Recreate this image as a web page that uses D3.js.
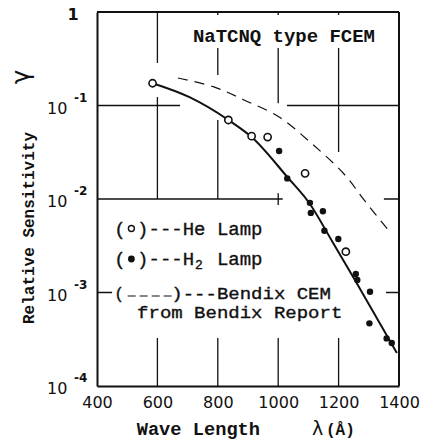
<!DOCTYPE html>
<html><head><meta charset="utf-8">
<script src="https://cdn.jsdelivr.net/npm/d3@7"></script>
<style>body{margin:0;background:#fff}svg{display:block}</style>
</head><body>
<svg id="c" width="422" height="440"></svg>
<script>
// ---- data ----
const heWave = [584, 835, 912, 965, 1089, 1224];
const heSens = [0.173, 0.070, 0.047, 0.046, 0.0188, 0.00273];
const h2Wave = [1003, 1030, 1105, 1108, 1148, 1153, 1199, 1257, 1262, 1304, 1302, 1359, 1376];
const h2Sens = [0.0326, 0.0166, 0.0091, 0.0071, 0.0074, 0.00458, 0.00373, 0.00158, 0.00136, 0.00102, 0.000468, 0.000323, 0.000288];
const fitWave = [584, 708, 835, 912, 1030, 1105, 1178, 1254, 1393];
const fitSens = [0.173, 0.122, 0.070, 0.046, 0.0172, 0.00885, 0.00356, 0.00136, 0.000225];
const bendixWave = [668, 787, 887, 1003, 1109, 1218, 1287, 1370];
const bendixSens = [0.197, 0.158, 0.1146, 0.0753, 0.0397, 0.0185, 0.00953, 0.00443];
const xTickLabels = ["400", "600", "800", "1000", "1200", "1400"];
const xTicks = [400, 600, 800, 1000, 1200, 1400];
const yTicks = [1, 1e-1, 1e-2, 1e-3, 1e-4];
const yTickExp = ["", "-1", "-2", "-3", "-4"];

// ---- layout ----
const svg = d3.select("#c");
const x = d3.scaleLinear().domain([400, 1400]).range([97, 399]);
const y = d3.scaleLog().domain([1e-4, 1]).range([386, 12]);
const ink = "#111";
const mono = "'Liberation Mono', 'DejaVu Sans Mono', monospace";
const sans = "'DejaVu Sans', sans-serif";

// partial grid segments (as drawn in the original graph paper)
const vSegs = [
  [600, 1, 0.285], [600, 0.123, 0.01], [600, 3.26e-4, 1e-4],
  [800, 1, 0.93], [800, 0.412, 0.212], [800, 0.07, 0.01], [800, 3.26e-4, 1e-4],
  [1000, 1, 0.93], [1000, 0.412, 0.106], [1000, 0.0115, 0.0086], [1000, 3.26e-4, 1e-4],
  [1200, 1, 0.93], [1200, 0.412, 0.0318], [1200, 3.26e-4, 1e-4]
];
const hSegs = [
  [0.1, 400, 675], [0.1, 1029, 1400],
  [0.01, 400, 1015], [0.01, 1350, 1400],
  [0.001, 400, 450], [0.001, 1357, 1400]
];

const g = svg.append("g");
g.selectAll("line.v").data(vSegs).join("line").attr("class", "v")
  .attr("x1", d => x(d[0])).attr("x2", d => x(d[0]))
  .attr("y1", d => y(d[1])).attr("y2", d => y(d[2]))
  .attr("stroke", ink).attr("stroke-width", 1.3);
g.selectAll("line.h").data(hSegs).join("line").attr("class", "h")
  .attr("y1", d => y(d[0])).attr("y2", d => y(d[0]))
  .attr("x1", d => x(d[1])).attr("x2", d => x(d[2]))
  .attr("stroke", ink).attr("stroke-width", 1.5);

// axes (frame)
const xAxis = d3.axisBottom(x).tickValues(xTicks).tickSize(0).tickFormat((d, i) => xTickLabels[i]);
const gx = svg.append("g").attr("transform", `translate(0,${y(1e-4)})`).call(xAxis);
gx.select(".domain").attr("stroke", ink).attr("stroke-width", 2);
gx.selectAll("text").attr("font-family", sans).attr("font-size", 16).attr("fill", ink)
  .attr("y", 22).attr("dy", 0);

const yAxis = d3.axisLeft(y).tickValues(yTicks).tickSize(0).tickFormat("");
const gy = svg.append("g").attr("transform", `translate(${x(400)},0)`).call(yAxis);
gy.select(".domain").attr("stroke", ink).attr("stroke-width", 2);

svg.append("line").attr("x1", x(400)).attr("x2", x(1400)).attr("y1", y(1)).attr("y2", y(1))
  .attr("stroke", ink).attr("stroke-width", 2);
svg.append("line").attr("x1", x(1400)).attr("x2", x(1400)).attr("y1", y(1)).attr("y2", y(1e-4))
  .attr("stroke", ink).attr("stroke-width", 2);

// y tick labels
yTicks.forEach((v, i) => {
  if (i === 0) {
    svg.append("text").attr("x", 73).attr("y", y(v) + 8).attr("text-anchor", "middle")
      .attr("font-family", sans).attr("font-weight", "bold").attr("font-size", 16).attr("fill", ink).text("1");
  } else {
    svg.append("text").attr("x", 47).attr("y", y(v) + 8)
      .attr("font-family", sans).attr("font-size", 16).attr("fill", ink).text("10");
    svg.append("text").attr("x", 74).attr("y", y(v) - 4)
      .attr("font-family", sans).attr("font-weight", "bold").attr("font-size", 12).attr("fill", ink).text(yTickExp[i]);
  }
});

// curves
const line = d3.line().x(d => x(d[0])).y(d => y(d[1]));
svg.append("path").datum(bendixWave.map((w, i) => [w, bendixSens[i]]))
  .attr("d", line.curve(d3.curveCatmullRom.alpha(0.5))).attr("fill", "none").attr("stroke", ink).attr("stroke-width", 1.2)
  .attr("stroke-dasharray", "10,7");
svg.append("path").datum(fitWave.map((w, i) => [w, fitSens[i]]))
  .attr("d", line.curve(d3.curveMonotoneX)).attr("fill", "none").attr("stroke", ink).attr("stroke-width", 2);

// points
svg.selectAll("circle.he").data(heWave.map((w, i) => [w, heSens[i]])).join("circle").attr("class", "he")
  .attr("cx", d => x(d[0])).attr("cy", d => y(d[1])).attr("r", 3.6)
  .attr("fill", "#fff").attr("stroke", ink).attr("stroke-width", 1.6);
svg.selectAll("circle.h2").data(h2Wave.map((w, i) => [w, h2Sens[i]])).join("circle").attr("class", "h2")
  .attr("cx", d => x(d[0])).attr("cy", d => y(d[1])).attr("r", 3.2)
  .attr("fill", ink);

// title
svg.append("text").attr("x", 193).attr("y", 41.5).attr("font-family", mono).attr("font-weight", "bold")
  .attr("font-size", 19).attr("fill", ink).attr("textLength", 182).text("NaTCNQ type FCEM");

// legend
const cw = 11.4;
const lx = 114.3;
const legText = (tx, ty, s, size) => svg.append("text").attr("x", tx).attr("y", ty)
  .attr("font-family", mono).attr("font-size", size || 19).attr("fill", ink)
  .attr("stroke", ink).attr("stroke-width", 0.35).style("white-space", "pre").text(s);
legText(lx, 235, "( )---He Lamp");
svg.append("circle").attr("cx", lx + cw * 1.5).attr("cy", 228.5).attr("r", 3)
  .attr("fill", "#fff").attr("stroke", ink).attr("stroke-width", 1.4);
legText(lx, 265, "( )---H");
legText(lx + cw * 7 + 1, 269, "2", 13);
legText(lx + cw * 9, 265, "Lamp");
svg.append("circle").attr("cx", lx + cw * 1.5).attr("cy", 259).attr("r", 3.4).attr("fill", ink);
legText(lx, 299, "(", 16.5);
legText(lx + cw * 5, 299, ")---Bendix CEM", 16.5).attr("textLength", cw * 14).attr("lengthAdjust", "spacingAndGlyphs");
legText(lx + cw * 2, 318, "from Bendix Report", 16.5).attr("textLength", cw * 18).attr("lengthAdjust", "spacingAndGlyphs");
svg.append("line").attr("x1", lx + cw + 2).attr("x2", lx + cw * 5 + 2).attr("y1", 296).attr("y2", 296)
  .attr("stroke", ink).attr("stroke-width", 1.2).attr("stroke-dasharray", "8,4");

// axis titles
svg.append("text").attr("transform", "translate(34,228) rotate(-90)").attr("text-anchor", "middle")
  .attr("font-family", mono).attr("font-weight", "bold").attr("font-size", 16).attr("fill", ink)
  .text("Relative Sensitivity");
svg.append("text").attr("transform", "translate(29,77) rotate(-90)").attr("text-anchor", "middle")
  .attr("font-family", sans).attr("font-size", 24).attr("fill", ink).text("γ");
svg.append("text").attr("x", 136.7).attr("y", 435).attr("font-family", mono).attr("font-weight", "bold")
  .attr("font-size", 18.7).attr("fill", ink).text("Wave Length");
svg.append("text").attr("x", 317.5).attr("y", 435).attr("text-anchor", "middle").attr("font-family", sans)
  .attr("font-size", 19).attr("fill", ink).text("λ");
svg.append("text").attr("x", 326).attr("y", 435).attr("font-family", mono).attr("font-weight", "bold")
  .attr("font-size", 16).attr("fill", ink).text("(Å)");
</script>
</body></html>
